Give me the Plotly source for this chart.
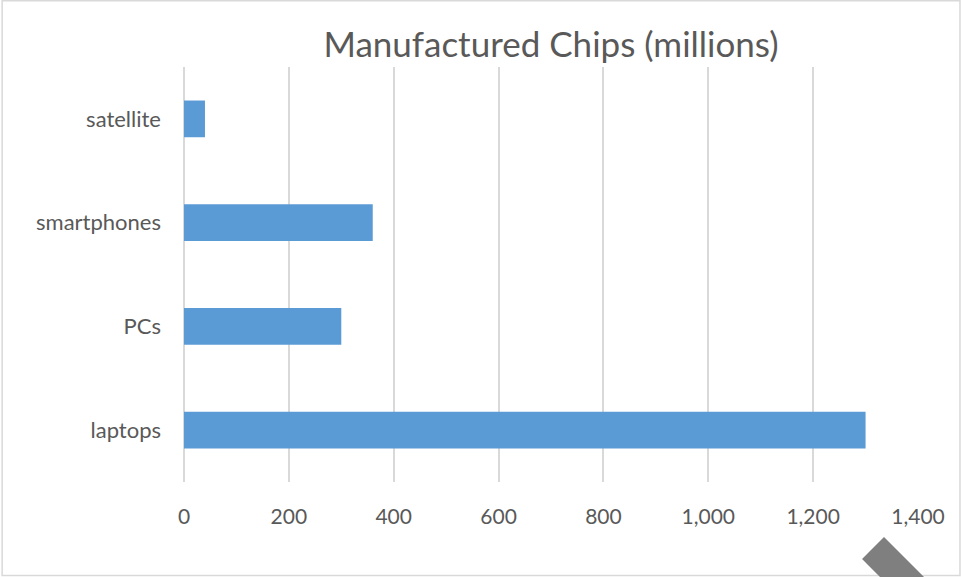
import plotly.graph_objects as go

categories = ["laptops", "PCs", "smartphones", "satellite"]
values = [1300, 300, 360, 40]
tick_vals = [0, 200, 400, 600, 800, 1000, 1200, 1400]
tick_text = ["0", "200", "400", "600", "800", "1,000", "1,200", "1,400"]

W, H = 961, 577
ML, MR, MT, MB = 183.5, 43, 67, 95
PW, PH = W - ML - MR, H - MT - MB

def px(x, y):
    return (x - ML) / PW, 1 - (y - MT) / PH

FONT = "Lato"
TXT = "#595959"
GRID = "#d9d9d9"

fig = go.Figure(go.Bar(
    y=categories, x=values, orientation="h",
    marker=dict(color="#5b9bd5", line=dict(width=0)),
))

# border
bx0, by0 = px(1.5, 0.8)
bx1, by1 = px(960, 575.5)
# decorative gray shape (rotated rectangle)
pts = [(884, 537), (862, 559), (862 + 60, 559 + 60), (884 + 60, 537 + 60)]
path = "M " + " L ".join(f"{px(a, b)[0]},{px(a, b)[1]}" for a, b in pts) + " Z"

fig.update_layout(
    width=W, height=H,
    margin=dict(l=ML, r=MR, t=MT, b=MB, pad=0),
    paper_bgcolor="white", plot_bgcolor="white",
    bargap=0.646,
    showlegend=False,
    title=dict(text="Manufactured Chips (millions)", x=0.5, xref="paper",
               xanchor="center", y=1 - 45 / H, yanchor="middle", yref="container",
               font=dict(family=FONT, size=35, color=TXT)),
    font=dict(family=FONT, color=TXT),
    xaxis=dict(range=[0, 1400], tickvals=tick_vals, ticktext=tick_text,
               showgrid=True, gridcolor=GRID, gridwidth=1.8,
               zeroline=True, zerolinecolor=GRID, zerolinewidth=1.8,
               showline=False, ticks="", ticklabelstandoff=20,
               tickfont=dict(family=FONT, size=21, color=TXT), fixedrange=True),
    yaxis=dict(showgrid=False, zeroline=False, showline=False, ticks="",
               ticklabelstandoff=22, range=[-0.5, 3.5],
               tickfont=dict(family=FONT, size=22, color=TXT), fixedrange=True),
    shapes=[
        dict(type="rect", xref="paper", yref="paper", x0=bx0, y0=by0, x1=bx1, y1=by1,
             line=dict(color="#d9d9d9", width=1.5), fillcolor="rgba(0,0,0,0)", layer="below"),
        dict(type="path", xref="paper", yref="paper", path=path,
             fillcolor="#7f7f7f", line=dict(width=0), layer="above"),
    ],
)

fig.write_html("out.html", config={"displayModeBar": False},
               post_script="document.body.style.margin='0px';document.body.style.overflow='hidden';")
